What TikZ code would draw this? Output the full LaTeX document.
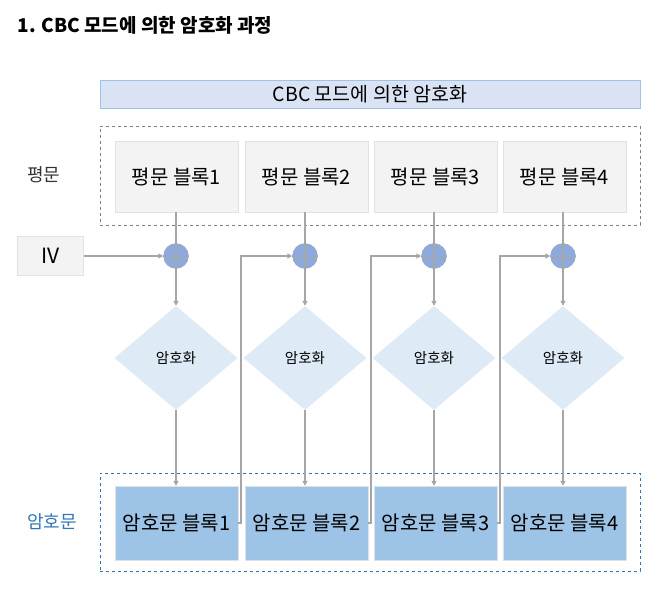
\documentclass[tikz,border=0pt]{standalone}
\usepackage{fontspec}
\setmainfont{Noto Sans CJK KR}
\usetikzlibrary{arrows.meta}
\usetikzlibrary{shapes.geometric}
\definecolor{headfill}{HTML}{DAE3F3}
\definecolor{headline}{HTML}{9DC3E6}
\definecolor{plainfill}{HTML}{F2F3F2}
\definecolor{plainline}{HTML}{E2E2E2}
\definecolor{cipherfill}{HTML}{9DC3E6}
\definecolor{cipherline}{HTML}{DCE2E8}
\definecolor{encfill}{HTML}{DEEAF6}
\definecolor{xorfill}{HTML}{8EA9DB}
\definecolor{xorline}{HTML}{9AA4B8}
\definecolor{wire}{HTML}{A6A6A6}
\definecolor{grayframe}{HTML}{808080}
\definecolor{blueframe}{HTML}{2E75B6}

\begin{document}
\begin{tikzpicture}[x=1pt, y=-1pt,
		plainblock/.style={draw=plainline, fill=plainfill, rectangle, minimum width=123pt, minimum height=71pt, font=\fontsize{20}{24}\selectfont},
		cipherblock/.style={draw=cipherline, fill=cipherfill, rectangle, minimum width=123pt, minimum height=74pt, font=\fontsize{20}{24}\selectfont},
		encbox/.style={fill=encfill, diamond, aspect=1.18, minimum width=123pt, minimum height=104pt, inner sep=0pt, font=\fontsize{14.5}{17}\selectfont},
		xorgate/.style={draw=xorline, fill=xorfill, circle, minimum size=25pt, inner sep=0pt},
		wireline/.style={draw=wire, line width=1.2pt, -{Triangle[length=5pt, width=5pt]}},
		feedline/.style={draw=wire, line width=1.8pt, -{Triangle[length=5pt, width=5pt]}}]
			\useasboundingbox (0,0) rectangle (665,610);
			\node[anchor=west, font=\fontsize{19}{22}\selectfont\bfseries] (title) at (14,25) {1. CBC 모드에 의한 암호화 과정};
			\node[draw=headline, fill=headfill, rectangle, minimum width=540pt, minimum height=28pt, font=\fontsize{19.5}{23}\selectfont] (head) at (370,94) {CBC 모드에 의한 암호화};
			\node[draw=grayframe, dashed, rectangle, minimum width=540pt, minimum height=99pt] (PF) at (370,175.5) {};
			\node[draw=blueframe, dashed, rectangle, minimum width=540pt, minimum height=98pt] (CF) at (370,522) {};
			\node[anchor=west, inner sep=0pt, font=\fontsize{18}{21}\selectfont, text=black!80] (PL) at (27,175) {평문};
			\node[anchor=west, inner sep=0pt, font=\fontsize{18}{21}\selectfont, text=blueframe] (CL) at (27,522) {암호문};
			\node[draw=plainline, fill=plainfill, rectangle, minimum width=66pt, minimum height=39pt, font=\fontsize{21}{24}\selectfont] (IV) at (50.5,256) {IV};
			% plaintext blocks
			\node[plainblock] (P1) at (176.5,176.5) {평문 블록1};
			\node[plainblock] (P2) at (306.5,176.5) {평문 블록2};
			\node[plainblock] (P3) at (435.5,176.5) {평문 블록3};
			\node[plainblock] (P4) at (564.5,176.5) {평문 블록4};
			% xor
			\node[xorgate] (X1) at (176,256) {};
			\node[xorgate] (X2) at (305,256) {};
			\node[xorgate] (X3) at (434,256) {};
			\node[xorgate] (X4) at (563,256) {};
			% encryption
			\node[encbox] (E1) at (176,358) {암호화};
			\node[encbox] (E2) at (305,358) {암호화};
			\node[encbox] (E3) at (434,358) {암호화};
			\node[encbox] (E4) at (563,358) {암호화};
			% ciphertext blocks
			\node[cipherblock] (C1) at (176.5,523) {암호문 블록1};
			\node[cipherblock] (C2) at (306.5,523) {암호문 블록2};
			\node[cipherblock] (C3) at (435.5,523) {암호문 블록3};
			\node[cipherblock] (C4) at (564.5,523) {암호문 블록4};
			% wires
			\draw [wireline] (IV) -- (X1);
			\draw [draw=wire, line width=1.2pt] (P1.south -| X1) -- (X1.south);
			\draw [draw=wire, line width=1.2pt] (P2.south -| X2) -- (X2.south);
			\draw [draw=wire, line width=1.2pt] (P3.south -| X3) -- (X3.south);
			\draw [draw=wire, line width=1.2pt] (P4.south -| X4) -- (X4.south);
			\draw [draw=wire, line width=1pt] (X1.west) -- (X1.east);
			\draw [draw=wire, line width=1pt] (X2.west) -- (X2.east);
			\draw [draw=wire, line width=1pt] (X3.west) -- (X3.east);
			\draw [draw=wire, line width=1pt] (X4.west) -- (X4.east);
			\draw [wireline] (X1) -- (E1);
			\draw [wireline] (X2) -- (E2);
			\draw [wireline] (X3) -- (E3);
			\draw [wireline] (X4) -- (E4);
			\draw [wireline] (E1.south) -- (C1.north -| E1);
			\draw [wireline] (E2.south) -- (C2.north -| E2);
			\draw [wireline] (E3.south) -- (C3.north -| E3);
			\draw [wireline] (E4.south) -- (C4.north -| E4);
			% feedback
			\draw [feedline] (C1.east) -- ++(3,0) |- (X2.west);
			\draw [feedline] (C2.east) -- ++(3,0) |- (X3.west);
			\draw [feedline] (C3.east) -- ++(3,0) |- (X4.west);
		\end{tikzpicture}
\end{document}
